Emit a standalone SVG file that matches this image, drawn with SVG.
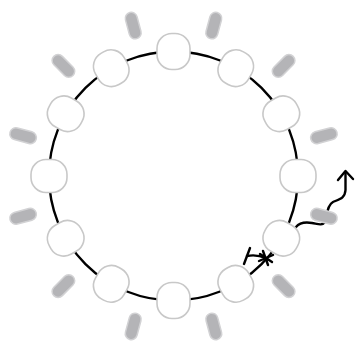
<svg xmlns="http://www.w3.org/2000/svg" width="357" height="341" viewBox="0 0 357 341">
<style>
.node{fill:#fff;stroke:#c8c8c8;stroke-width:1.6}
.bar{fill:#b4b4b7;stroke:#d2d2d4;stroke-width:1.5}
.ln{fill:none;stroke:#000;stroke-width:2.4;stroke-linecap:round;stroke-linejoin:round}
</style>
<rect width="357" height="341" fill="#fff"/>
<g id="connectors">
<circle class="ln" cx="173.5" cy="176" r="124.5"/>
<path class="ln" d="M266,258 Q256,254 247,256"/>
<path class="ln" d="M250,248 L244,264"/>
<path class="ln" d="M260,254 L272,262 M259,261 L273,255 M263,251 L268,265" stroke-width="1.8"/>
<path class="ln" d="M296,227 C300,222 306,222 312,223 C318,224 322,226 325,222 C328,216 326,206 333,202 C340,199 345,198 345.5,190 L345.5,172"/>
<polyline class="ln" points="338,180 345.5,171 353,179"/>
</g>
<g id="nodes">
<g id="n0" transform="translate(173.5,51.5) rotate(0)"><rect class="node" x="-16.5" y="-18" width="33" height="36" rx="15"/></g>
<g id="n1" transform="translate(235.75,68.2) rotate(30)"><rect class="node" x="-16.5" y="-18" width="33" height="36" rx="15"/></g>
<g id="n2" transform="translate(281.3,113.75) rotate(60)"><rect class="node" x="-16.5" y="-18" width="33" height="36" rx="15"/></g>
<g id="n3" transform="translate(298,176) rotate(90)"><rect class="node" x="-16.5" y="-18" width="33" height="36" rx="15"/></g>
<g id="n4" transform="translate(281.3,238.25) rotate(120)"><rect class="node" x="-16.5" y="-18" width="33" height="36" rx="15"/></g>
<g id="n5" transform="translate(235.75,283.8) rotate(150)"><rect class="node" x="-16.5" y="-18" width="33" height="36" rx="15"/></g>
<g id="n6" transform="translate(173.5,300.5) rotate(180)"><rect class="node" x="-16.5" y="-18" width="33" height="36" rx="15"/></g>
<g id="n7" transform="translate(111.25,283.8) rotate(210)"><rect class="node" x="-16.5" y="-18" width="33" height="36" rx="15"/></g>
<g id="n8" transform="translate(65.7,238.25) rotate(240)"><rect class="node" x="-16.5" y="-18" width="33" height="36" rx="15"/></g>
<g id="n9" transform="translate(49,176) rotate(270)"><rect class="node" x="-16.5" y="-18" width="33" height="36" rx="15"/></g>
<g id="n10" transform="translate(65.7,113.75) rotate(300)"><rect class="node" x="-16.5" y="-18" width="33" height="36" rx="15"/></g>
<g id="n11" transform="translate(111.25,68.2) rotate(330)"><rect class="node" x="-16.5" y="-18" width="33" height="36" rx="15"/></g>
</g>
<g id="bars">
<rect class="bar" x="-6" y="-13.5" width="12" height="27" rx="6" transform="translate(213.8,25.6) rotate(15)"/>
<rect class="bar" x="-6" y="-13.5" width="12" height="27" rx="6" transform="translate(283.6,65.9) rotate(45)"/>
<rect class="bar" x="-6" y="-13.5" width="12" height="27" rx="6" transform="translate(323.9,135.7) rotate(75)"/>
<rect class="bar" x="-6" y="-13.5" width="12" height="27" rx="6" transform="translate(323.9,216.3) rotate(105)"/>
<rect class="bar" x="-6" y="-13.5" width="12" height="27" rx="6" transform="translate(283.6,286.1) rotate(135)"/>
<rect class="bar" x="-6" y="-13.5" width="12" height="27" rx="6" transform="translate(213.8,326.4) rotate(165)"/>
<rect class="bar" x="-6" y="-13.5" width="12" height="27" rx="6" transform="translate(133.2,326.4) rotate(195)"/>
<rect class="bar" x="-6" y="-13.5" width="12" height="27" rx="6" transform="translate(63.4,286.1) rotate(225)"/>
<rect class="bar" x="-6" y="-13.5" width="12" height="27" rx="6" transform="translate(23.1,216.3) rotate(255)"/>
<rect class="bar" x="-6" y="-13.5" width="12" height="27" rx="6" transform="translate(23.1,135.7) rotate(285)"/>
<rect class="bar" x="-6" y="-13.5" width="12" height="27" rx="6" transform="translate(63.4,65.9) rotate(315)"/>
<rect class="bar" x="-6" y="-13.5" width="12" height="27" rx="6" transform="translate(133.2,25.6) rotate(345)"/>
</g>
</svg>
